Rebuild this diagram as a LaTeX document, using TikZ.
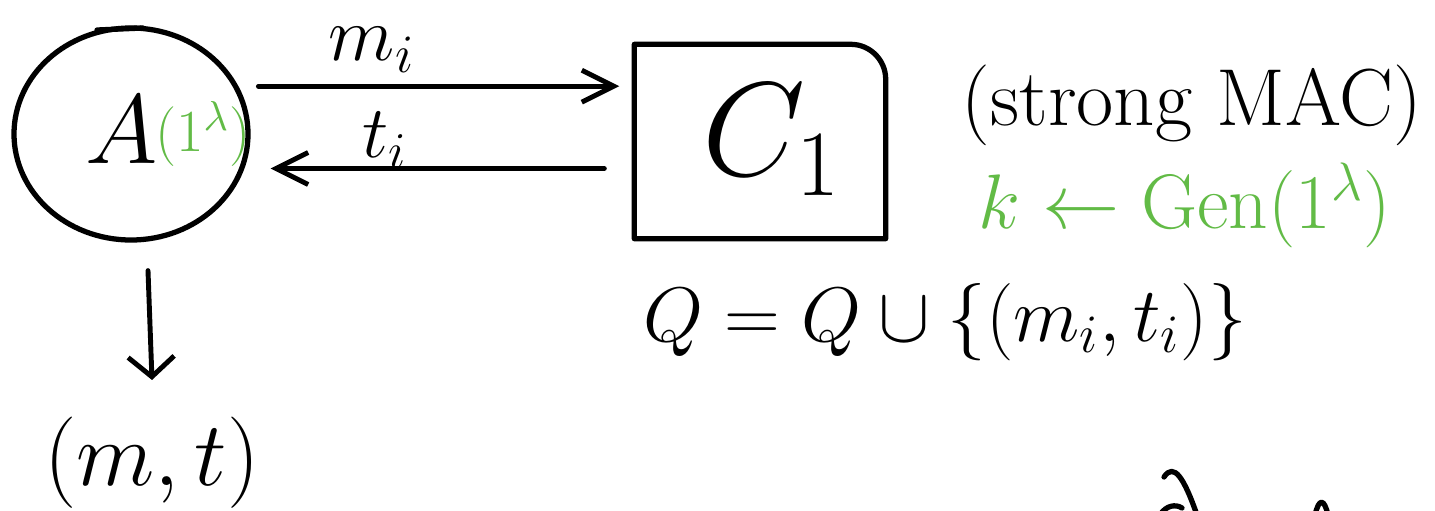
\documentclass[tikz,border=0pt]{standalone}
\usepackage{fix-cm}
\usepackage{tikz}
\usetikzlibrary{shapes.geometric,arrows.meta,positioning,calc}
\definecolor{handgreen}{RGB}{98,187,70}
\tikzstyle{arrow} = [->,line width=1.4pt,line cap=round,>={Straight Barb[length=3.2mm,width=3.2mm]}]
\tikzstyle{stroke} = [line width=1.5pt,line cap=round,line join=round]
\newcommand{\handsize}[1]{\fontsize{#1}{#1}\selectfont}
\begin{document}
\begin{tikzpicture}
	\clip (0,0) rectangle (14.35,5.10);
	\fill[white] (0,0) rectangle (14.35,5.10);

	% adversary
	\node[ellipse, draw, stroke, minimum width=2.34cm, minimum height=2.12cm] (A) at (1.31,3.76) {};
	\draw[stroke] (0.97,4.80) -- (1.43,4.82);
	\node (Alabel) at (1.22,3.80) {\handsize{28}$A$};
	\node[text=handgreen] (Asec) at (2.03,3.76) {\handsize{17}$(1^\lambda)$};

	% challenger
	\node[minimum width=2.5cm, minimum height=1.93cm, inner sep=0] (C) at (7.60,3.685) {};
	\draw[stroke] (C.south west) -- (C.north west) -- ([xshift=-3.5mm]C.north east)
		arc[start angle=90, end angle=0, radius=3.5mm] -- (C.south east) -- cycle;
	\node (Clabel) at (7.72,3.70) {\handsize{38}$C_1$};

	% queries
	\coordinate (mout) at ([xshift=2mm]A.24);
	\draw[arrow] (mout) -- ([xshift=-1.5mm]mout -| C.west);
	\node (mlabel) at (3.72,4.60) {\handsize{22}$m_i$};
	\coordinate (tin) at ([xshift=-3mm,yshift=-2.7mm]C.west);
	\draw[arrow] (tin) -- ([xshift=2mm]tin -| A.east);
	\node (tlabel) at (3.85,3.70) {\handsize{21}$t_i$};

	% notes
	\node (mac) at (11.92,4.05) {\handsize{23}(strong MAC)};
	\node[text=handgreen] (gen) at (11.85,3.05) {\handsize{22}$k \leftarrow \mathrm{Gen}(1^\lambda)$};
	\node (Q) at (9.45,1.88) {\handsize{22}$Q = Q \cup \{(m_i, t_i)\}$};

	% forgery
	\node (mt) at (1.52,0.47) {\handsize{26}$(m,t)$};
	\draw[arrow, >={Straight Barb[length=2mm,width=4.6mm]}] ([xshift=1.7mm,yshift=-2.8mm]A.south) -- ([yshift=2.5mm]mt.north);

	% cut off strokes
	\draw[stroke] (11.64,0.33) .. controls (11.74,0.48) and (11.84,0.32) .. (11.97,-0.05);
	\draw[stroke] (11.60,-0.05) .. controls (11.66,0.05) and (11.76,0.06) .. (11.82,0.02);
	\draw[stroke] (13.15,-0.05) .. controls (13.19,0.12) and (13.24,0.12) .. (13.28,-0.05);
\end{tikzpicture}
\end{document}
